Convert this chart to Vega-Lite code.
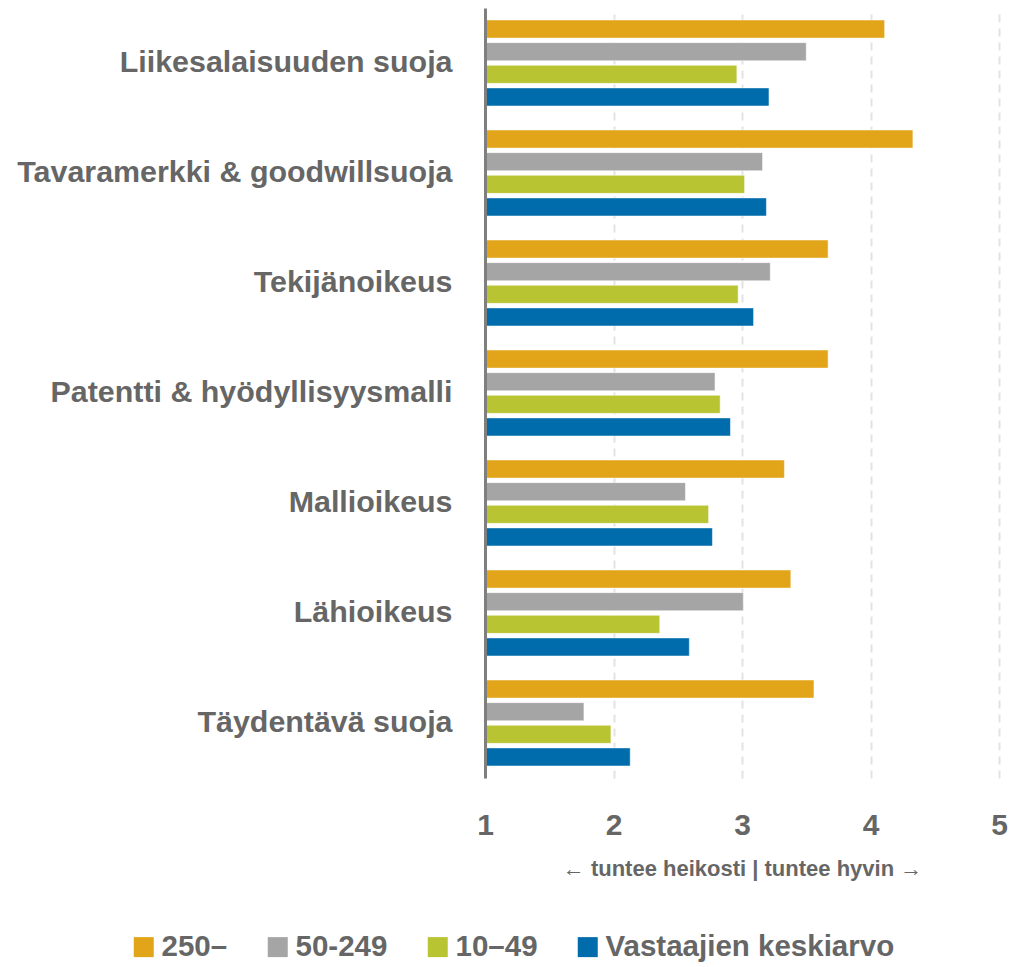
{
  "$schema": "https://vega.github.io/schema/vega-lite/v6.json",
  "autosize": {"type": "none"},
  "padding": {"left": 485, "top": 8, "right": 12, "bottom": 189},
  "width": 514,
  "height": 770,
  "background": "white",
  "config": {
    "view": {"stroke": null},
    "font": "Liberation Sans"
  },
  "data": {
    "values": [
      {"kategoria": "Liikesalaisuuden suoja", "ryhmä": "250–", "arvo": 4.11},
      {"kategoria": "Liikesalaisuuden suoja", "ryhmä": "50-249", "arvo": 3.50},
      {"kategoria": "Liikesalaisuuden suoja", "ryhmä": "10–49", "arvo": 2.96},
      {"kategoria": "Liikesalaisuuden suoja", "ryhmä": "Vastaajien keskiarvo", "arvo": 3.21},
      {"kategoria": "Tavaramerkki & goodwillsuoja", "ryhmä": "250–", "arvo": 4.33},
      {"kategoria": "Tavaramerkki & goodwillsuoja", "ryhmä": "50-249", "arvo": 3.16},
      {"kategoria": "Tavaramerkki & goodwillsuoja", "ryhmä": "10–49", "arvo": 3.02},
      {"kategoria": "Tavaramerkki & goodwillsuoja", "ryhmä": "Vastaajien keskiarvo", "arvo": 3.19},
      {"kategoria": "Tekijänoikeus", "ryhmä": "250–", "arvo": 3.67},
      {"kategoria": "Tekijänoikeus", "ryhmä": "50-249", "arvo": 3.22},
      {"kategoria": "Tekijänoikeus", "ryhmä": "10–49", "arvo": 2.97},
      {"kategoria": "Tekijänoikeus", "ryhmä": "Vastaajien keskiarvo", "arvo": 3.09},
      {"kategoria": "Patentti & hyödyllisyysmalli", "ryhmä": "250–", "arvo": 3.67},
      {"kategoria": "Patentti & hyödyllisyysmalli", "ryhmä": "50-249", "arvo": 2.79},
      {"kategoria": "Patentti & hyödyllisyysmalli", "ryhmä": "10–49", "arvo": 2.83},
      {"kategoria": "Patentti & hyödyllisyysmalli", "ryhmä": "Vastaajien keskiarvo", "arvo": 2.91},
      {"kategoria": "Mallioikeus", "ryhmä": "250–", "arvo": 3.33},
      {"kategoria": "Mallioikeus", "ryhmä": "50-249", "arvo": 2.56},
      {"kategoria": "Mallioikeus", "ryhmä": "10–49", "arvo": 2.74},
      {"kategoria": "Mallioikeus", "ryhmä": "Vastaajien keskiarvo", "arvo": 2.77},
      {"kategoria": "Lähioikeus", "ryhmä": "250–", "arvo": 3.38},
      {"kategoria": "Lähioikeus", "ryhmä": "50-249", "arvo": 3.01},
      {"kategoria": "Lähioikeus", "ryhmä": "10–49", "arvo": 2.36},
      {"kategoria": "Lähioikeus", "ryhmä": "Vastaajien keskiarvo", "arvo": 2.59},
      {"kategoria": "Täydentävä suoja", "ryhmä": "250–", "arvo": 3.56},
      {"kategoria": "Täydentävä suoja", "ryhmä": "50-249", "arvo": 1.77},
      {"kategoria": "Täydentävä suoja", "ryhmä": "10–49", "arvo": 1.98},
      {"kategoria": "Täydentävä suoja", "ryhmä": "Vastaajien keskiarvo", "arvo": 2.13}
    ]
  },
  "mark": {"type": "bar", "stroke": "white", "strokeOpacity": 0.5, "strokeWidth": 1},
  "encoding": {
    "y": {
      "field": "kategoria",
      "type": "nominal",
      "sort": null,
      "scale": {"paddingInner": 0.218, "paddingOuter": 0.109},
      "axis": {
        "title": null,
        "ticks": false,
        "domain": true,
        "domainColor": "#7f7f7f",
        "domainWidth": 3,
        "labelFontSize": 30.4,
        "labelFontWeight": "bold",
        "labelColor": "#666666",
        "labelPadding": 33,
        "labelLimit": 600,
        "zindex": 2
      }
    },
    "yOffset": {
      "field": "ryhmä",
      "type": "nominal",
      "sort": ["250–", "50-249", "10–49", "Vastaajien keskiarvo"],
      "scale": {"paddingInner": 0.2, "paddingOuter": 0}
    },
    "x": {
      "field": "arvo",
      "type": "quantitative",
      "scale": {"domain": [1, 5], "zero": false, "nice": false},
      "axis": {
        "title": "← tuntee heikosti |  tuntee hyvin →",
        "titleFontSize": 22,
        "titleFontWeight": "bold",
        "titleColor": "#666666",
        "titlePadding": 18,
        "values": [1, 2, 3, 4, 5],
        "format": "d",
        "domain": false,
        "ticks": false,
        "labelFontSize": 30,
        "labelFontWeight": "bold",
        "labelColor": "#666666",
        "labelPadding": 32,
        "labelFlush": false,
        "grid": true,
        "gridColor": "#e3e3e3",
        "gridWidth": 2,
        "gridDash": [8, 6]
      }
    },
    "x2": {"datum": 1},
    "color": {
      "field": "ryhmä",
      "type": "nominal",
      "sort": ["250–", "50-249", "10–49", "Vastaajien keskiarvo"],
      "scale": {
        "domain": ["250–", "50-249", "10–49", "Vastaajien keskiarvo"],
        "range": ["#e2a418", "#a5a5a5", "#b8c432", "#006cab"]
      },
      "legend": {
        "title": null,
        "orient": "none",
        "direction": "horizontal",
        "legendX": -356,
        "legendY": 924,
        "padding": 0,
        "symbolType": "square",
        "symbolSize": 400,
        "symbolStrokeWidth": 0,
        "symbolOpacity": 1,
        "labelFontSize": 29.5,
        "labelFontWeight": "bold",
        "labelColor": "#666666",
        "labelOffset": 3,
        "columnPadding": 35,
        "labelLimit": 600
      }
    }
  }
}
